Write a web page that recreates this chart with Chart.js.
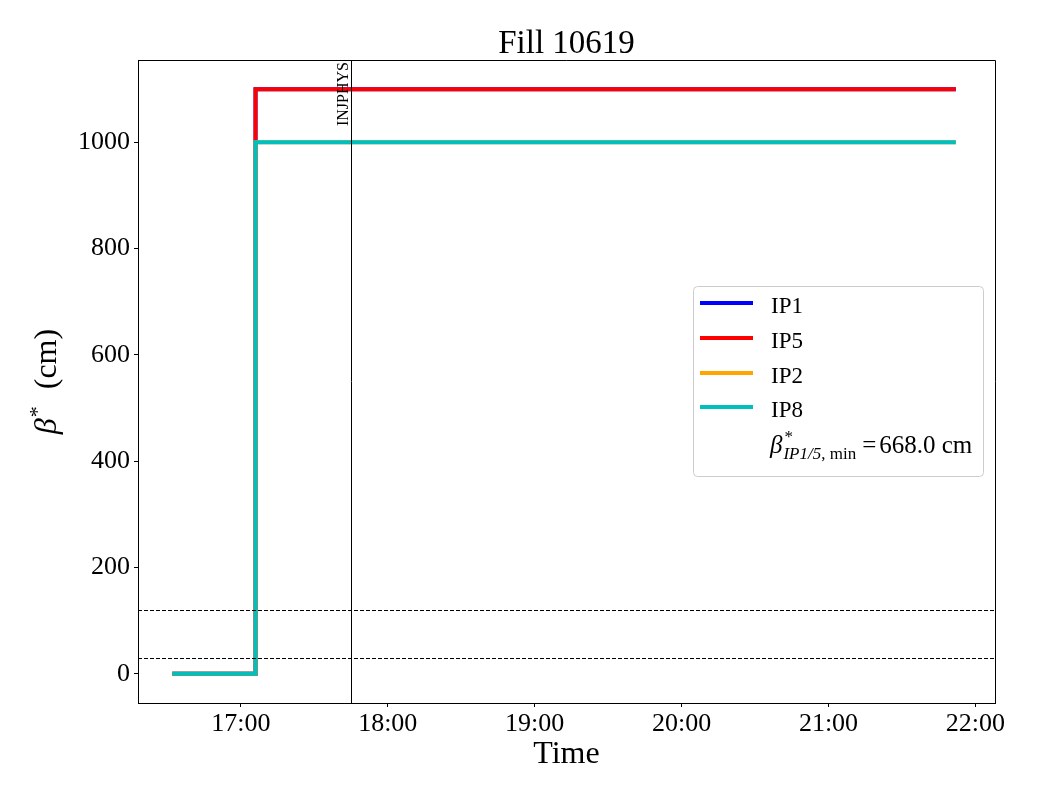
<!DOCTYPE html>
<html>
<head>
<meta charset="utf-8">
<title>Fill 10619</title>
<script src="https://cdn.jsdelivr.net/npm/chart.js"></script>
<style>
  body { margin: 0; background: #fff; }
</style>
</head>
<body>
<canvas id="myChart" width="1040" height="800"></canvas>
<script>
// data
const times = ['16:32', '17:06', '21:52'];
const ip1 = [0, 1100, 1100];
const ip5 = [0, 1100, 1100];
const ip2 = [0, 1000, 1000];
const ip8 = [0, 1000, 1000];
const xTickLabels = ['17:00', '18:00', '19:00', '20:00', '21:00', '22:00'];
const yTickValues = [0, 200, 400, 600, 800, 1000];
const refLevels = [120, 30];
const markerTime = '17:45';
const markerLabel = 'INJPHYS';
const betaMin = 668.0;
const xRange = ['16:18', '22:08'];
const yRange = [-55, 1155];

const serif = '"Liberation Serif", "DejaVu Serif", serif';

function toMin(s) {
    const [h, m] = s.split(':').map(Number);
    return h * 60 + m;
}
function fmtTime(v) {
    const h = Math.floor(v / 60);
    const m = Math.round(v - h * 60);
    return String(h).padStart(2, '0') + ':' + String(m).padStart(2, '0');
}
function series(values) {
    return times.map((t, i) => ({ x: toMin(t), y: values[i] }));
}

const seriesDefs = [
    { label: 'IP1', data: ip1, color: '#0000ff' },
    { label: 'IP5', data: ip5, color: '#ff0000' },
    { label: 'IP2', data: ip2, color: '#ffa500' },
    { label: 'IP8', data: ip8, color: '#00bfbf' },
];

const overlays = {
    id: 'overlays',
    afterDatasetsDraw(chart) {
        const { ctx, chartArea: a, scales: { x, y } } = chart;
        ctx.save();
        ctx.strokeStyle = '#000';
        ctx.lineWidth = 1;
        // dashed reference levels
        ctx.setLineDash([4, 2]);
        refLevels.forEach(v => {
            const py = Math.round(y.getPixelForValue(v)) + 0.5;
            ctx.beginPath();
            ctx.moveTo(a.left, py);
            ctx.lineTo(a.right, py);
            ctx.stroke();
        });
        ctx.setLineDash([]);
        // marker line
        const px = Math.round(x.getPixelForValue(toMin(markerTime))) + 0.5;
        ctx.beginPath();
        ctx.moveTo(px, a.top);
        ctx.lineTo(px, a.bottom);
        ctx.stroke();
        // top and right frame
        ctx.beginPath();
        ctx.moveTo(a.left, a.top + 0.5);
        ctx.lineTo(a.right + 0.5, a.top + 0.5);
        ctx.lineTo(a.right + 0.5, a.bottom);
        ctx.stroke();
        // marker label
        ctx.translate(px - 4, a.top + 2);
        ctx.rotate(-Math.PI / 2);
        ctx.fillStyle = '#000';
        ctx.font = '16px ' + serif;
        ctx.textAlign = 'right';
        ctx.textBaseline = 'alphabetic';
        ctx.fillText(markerLabel, 0, 0);
        ctx.restore();
    },
    afterDraw(chart) {
        const { ctx, chartArea: a } = chart;
        const cx = (a.left + a.right) / 2;
        ctx.save();
        ctx.fillStyle = '#000';
        ctx.textBaseline = 'alphabetic';
        // title
        ctx.textAlign = 'center';
        ctx.font = '33px ' + serif;
        ctx.fillText('Fill 10619', cx, 53);
        // x title
        ctx.font = '32px ' + serif;
        ctx.fillText('Time', cx, 763);
        // y title: beta^* (cm)
        ctx.save();
        ctx.translate(56, (a.top + a.bottom) / 2);
        ctx.rotate(-Math.PI / 2);
        ctx.textAlign = 'left';
        const fBeta = 'italic 32px ' + serif;
        const fSup = '22px ' + serif;
        const fMain = '32px ' + serif;
        ctx.font = fBeta; const wB = ctx.measureText('β').width;
        ctx.font = fSup; const wS = ctx.measureText('*').width;
        ctx.font = fMain; const wC = ctx.measureText('  (cm)').width;
        let tx = -(wB + wS + 2 + wC) / 2;
        ctx.font = fBeta; ctx.fillText('β', tx, 0); tx += wB + 1;
        ctx.font = fSup; ctx.fillText('*', tx, -12); tx += wS + 1;
        ctx.font = fMain; ctx.fillText('  (cm)', tx, 0);
        ctx.restore();

        // legend
        const bx = 693.5, by = 286.5, bw = 290, bh = 190;
        ctx.beginPath();
        ctx.roundRect(bx, by, bw, bh, 4);
        ctx.fillStyle = 'rgba(255,255,255,0.8)';
        ctx.fill();
        ctx.strokeStyle = '#cccccc';
        ctx.lineWidth = 1;
        ctx.stroke();
        const rowY = [303, 338, 373, 407];
        ctx.font = '23px ' + serif;
        ctx.textAlign = 'left';
        seriesDefs.forEach((s, i) => {
            ctx.strokeStyle = s.color;
            ctx.lineWidth = 4;
            ctx.beginPath();
            ctx.moveTo(700, rowY[i]);
            ctx.lineTo(753, rowY[i]);
            ctx.stroke();
            ctx.fillStyle = '#000';
            ctx.fillText(s.label, 771, rowY[i] + 10);
        });
        // beta*_{IP1/5,min} = 668.0 cm
        const base = 453;
        let lx = 770;
        ctx.font = 'italic 25px ' + serif;
        ctx.fillText('β', lx, base);
        lx += ctx.measureText('β').width + 1;
        ctx.font = '17px ' + serif;
        ctx.fillText('*', lx + 1, base - 11);
        ctx.font = 'italic 17px ' + serif;
        ctx.fillText('IP1/5', lx, base + 6);
        lx += ctx.measureText('IP1/5').width;
        ctx.font = '17px ' + serif;
        ctx.fillText(', min', lx, base + 6);
        lx += ctx.measureText(', min').width + 6;
        ctx.font = '25px ' + serif;
        ctx.fillText('=', lx, base);
        lx += ctx.measureText('=').width + 3;
        ctx.fillText(betaMin.toFixed(1) + ' cm', lx, base);
        ctx.restore();
    }
};

const ctx = document.getElementById('myChart').getContext('2d');
new Chart(ctx, {
    type: 'line',
    data: {
        datasets: seriesDefs.map((s, i) => ({
            label: s.label,
            data: series(s.data),
            borderColor: s.color,
            backgroundColor: s.color,
            borderWidth: 4,
            pointRadius: 0,
            stepped: 'before',
            fill: false,
            order: seriesDefs.length - i,
        })),
    },
    options: {
        responsive: false,
        animation: false,
        layout: { padding: { top: 60, right: 45, left: 0, bottom: 0 } },
        plugins: {
            legend: { display: false },
            title: { display: false },
            tooltip: { enabled: false },
        },
        scales: {
            x: {
                type: 'linear',
                min: toMin(xRange[0]),
                max: toMin(xRange[1]),
                afterBuildTicks: (scale) => {
                    scale.ticks = xTickLabels.map(l => ({ value: toMin(l) }));
                },
                afterFit: (scale) => { scale.height = 97; },
                ticks: {
                    callback: (v) => fmtTime(v),
                    color: '#000',
                    font: { family: serif, size: 26 },
                    padding: 2,
                    maxRotation: 0,
                },
                grid: { display: true, drawOnChartArea: false, drawTicks: true, tickLength: 4, color: '#000' },
                border: { display: true, color: '#000', width: 1 },
            },
            y: {
                type: 'linear',
                min: yRange[0],
                max: yRange[1],
                afterBuildTicks: (scale) => {
                    scale.ticks = yTickValues.map(v => ({ value: v }));
                },
                afterFit: (scale) => { scale.width = 138; },
                ticks: {
                    callback: (v) => String(v),
                    color: '#000',
                    font: { family: serif, size: 26 },
                    padding: 4,
                },
                grid: { display: true, drawOnChartArea: false, drawTicks: true, tickLength: 4, color: '#000' },
                border: { display: true, color: '#000', width: 1 },
            },
        },
    },
    plugins: [overlays],
});
</script>
</body>
</html>
